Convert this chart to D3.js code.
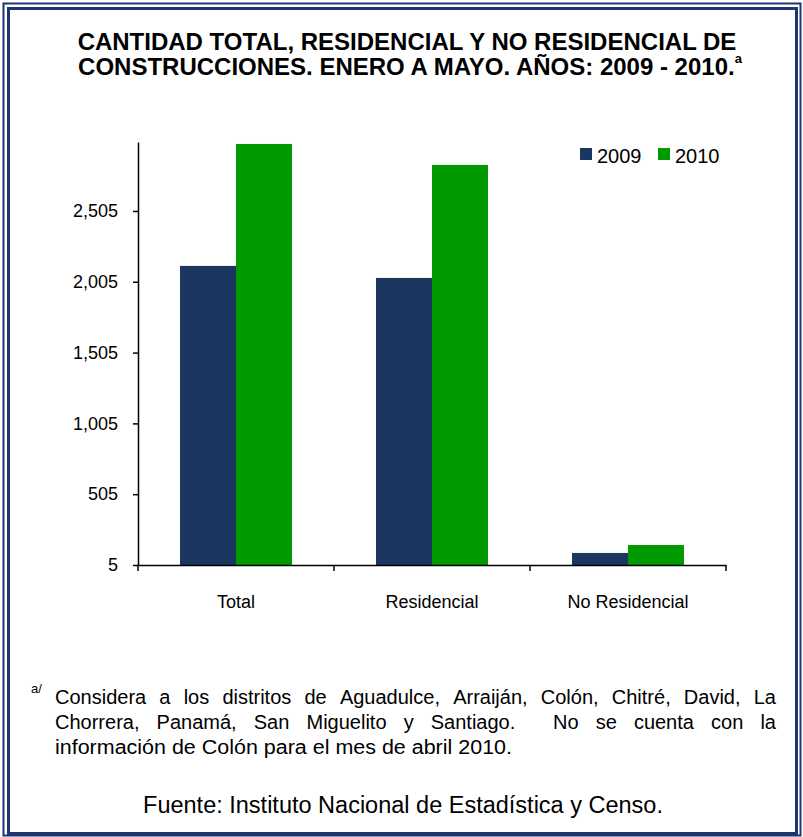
<!DOCTYPE html>
<html>
<head>
<meta charset="utf-8">
<script src="https://cdn.jsdelivr.net/npm/d3@7"></script>
<style>
  body { margin: 0; background: #fff; }
  svg { display: block; font-family: "Liberation Sans", Arial, sans-serif; }
</style>
</head>
<body>
<svg width="803" height="837"></svg>
<script>
"use strict";

// data
const categories = ["Total", "Residencial", "No Residencial"];
const years = ["2009", "2010"];
const values2009 = [2117, 2032, 90];
const values2010 = [2978, 2830, 146];
const yTicks = [5, 505, 1005, 1505, 2005, 2505];
const yearColors = ["#1b375f", "#009900"];

var svg = d3.select("svg"),
    width = +svg.attr("width"),
    height = +svg.attr("height");

// double frame
svg.append("rect")
    .attr("x", 3.5).attr("y", 3.5)
    .attr("width", width - 6).attr("height", height - 5)
    .attr("fill", "none").attr("stroke", "#1d3570").attr("stroke-width", 2);
svg.append("rect")
    .attr("x", 8.5).attr("y", 8.5)
    .attr("width", width - 15).attr("height", height - 12)
    .attr("fill", "none").attr("stroke", "#1d3570").attr("stroke-width", 3);

// title
var title = svg.append("text")
    .attr("text-anchor", "middle")
    .attr("font-weight", "bold")
    .attr("font-size", 24)
    .attr("fill", "#000");
title.append("tspan").attr("x", 407).attr("y", 50)
    .text("CANTIDAD TOTAL, RESIDENCIAL Y NO RESIDENCIAL DE");
title.append("tspan").attr("x", 410).attr("y", 75)
    .text("CONSTRUCCIONES. ENERO A MAYO. AÑOS: 2009 - 2010.");
title.append("tspan").attr("dy", -12).attr("font-size", 13).text("a");

var margin = {left: 138, right: 803 - 726, top: 142, bottom: 837 - 565};

var x = d3.scaleBand()
    .domain(categories)
    .range([margin.left, width - margin.right])
    .paddingInner(0)
    .paddingOuter(0);

var xYear = d3.scaleBand()
    .domain(years)
    .range([0, x.bandwidth()])
    .paddingOuter(0.75)
    .paddingInner(0);

var y = d3.scaleLinear()
    .domain([5, 2992])
    .range([height - margin.bottom, margin.top]);

var rows = categories.map(function(c, i) {
  return {cat: c, vals: [values2009[i], values2010[i]]};
});

// bars
var groups = svg.append("g")
    .selectAll("g")
    .data(rows)
    .enter().append("g")
    .attr("transform", function(d) { return "translate(" + x(d.cat) + ",0)"; });

groups.selectAll("rect")
    .data(function(d) { return d.vals.map(function(v, j) { return {year: years[j], v: v, j: j}; }); })
    .enter().append("rect")
    .attr("x", function(d) { return xYear(d.year); })
    .attr("width", xYear.bandwidth())
    .attr("y", function(d) { return y(d.v); })
    .attr("height", function(d) { return y(5) - y(d.v); })
    .attr("fill", function(d) { return yearColors[d.j]; });

// y axis
var yAxis = svg.append("g")
    .attr("transform", "translate(" + margin.left + ",0)")
    .call(d3.axisLeft(y).tickValues(yTicks).tickSize(5).tickPadding(15)
          .tickFormat(d3.format(",")).tickSizeOuter(0));
yAxis.select(".domain").attr("stroke", "#000").attr("stroke-width", 1.5);
yAxis.selectAll(".tick line").attr("stroke", "#000").attr("stroke-width", 1.5);
yAxis.selectAll("text").attr("font-size", 18).attr("fill", "#000")
    .attr("font-family", "Liberation Sans, Arial, sans-serif");

// x axis
var xAxis = svg.append("g")
    .attr("transform", "translate(0," + y(5) + ")")
    .call(d3.axisBottom(x).tickSize(0).tickPadding(30).tickSizeOuter(0));
xAxis.select(".domain").attr("stroke", "#000").attr("stroke-width", 1.5);
xAxis.selectAll("text").attr("font-size", 18).attr("fill", "#000")
    .attr("font-family", "Liberation Sans, Arial, sans-serif");

// category boundary ticks
var bounds = categories.map(function(c) { return x(c); }).concat([width - margin.right]);
xAxis.selectAll("line.bound")
    .data(bounds)
    .enter().append("line")
    .attr("class", "bound")
    .attr("x1", function(d) { return d; }).attr("x2", function(d) { return d; })
    .attr("y1", 0).attr("y2", 6)
    .attr("stroke", "#000").attr("stroke-width", 1.5);

// legend
var legend = svg.append("g")
    .selectAll("g")
    .data(years)
    .enter().append("g")
    .attr("transform", function(d, i) { return "translate(" + (580 + i * 78) + ",148)"; });
legend.append("rect")
    .attr("width", 12).attr("height", 12)
    .attr("fill", function(d, i) { return yearColors[i]; });
legend.append("text")
    .attr("x", 17).attr("y", 15)
    .attr("font-size", 20)
    .text(function(d) { return d; });

// footnote, justified (a double space counts as a wider gap)
var noteLines = [
  "Considera a los distritos de Aguadulce, Arraiján, Colón, Chitré, David, La",
  "Chorrera, Panamá, San Miguelito y Santiago.  No se cuenta con la",
  "información de Colón para el mes de abril 2010."
];
svg.append("text")
    .attr("x", 31).attr("y", 693)
    .attr("font-size", 13)
    .text("a/");

var noteLeft = 55, noteRight = 776, noteSize = 20;
noteLines.forEach(function(line, li) {
  var yy = 704 + li * 25;
  if (li === noteLines.length - 1) {
    svg.append("text").attr("x", noteLeft).attr("y", yy)
        .attr("font-size", noteSize)
        .attr("textLength", 457).attr("lengthAdjust", "spacingAndGlyphs")
        .text(line);
    return;
  }
  var parts = line.split(" ");
  var words = [], weights = [];
  parts.forEach(function(p) {
    if (p === "") { weights[weights.length - 1] += 1.2; }
    else { words.push(p); weights.push(1); }
  });
  weights.pop();
  var widths = words.map(function(w) {
    var t = svg.append("text").attr("font-size", noteSize).text(w);
    var len = t.node().getComputedTextLength();
    t.remove();
    return len;
  });
  var total = d3.sum(widths);
  var gap = (noteRight - noteLeft - total) / d3.sum(weights);
  var cx = noteLeft;
  words.forEach(function(w, k) {
    svg.append("text").attr("x", cx).attr("y", yy)
        .attr("font-size", noteSize).text(w);
    if (k < weights.length) cx += widths[k] + gap * weights[k];
  });
});

svg.append("text")
    .attr("x", 403).attr("y", 813)
    .attr("text-anchor", "middle")
    .attr("font-size", 23.5)
    .text("Fuente: Instituto Nacional de Estadística y Censo.");
</script>
</body>
</html>
